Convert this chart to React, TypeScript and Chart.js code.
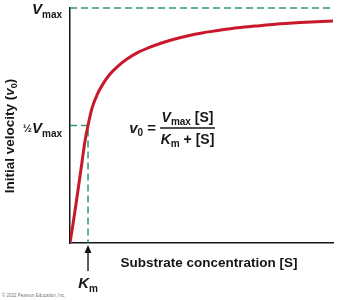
import { useEffect, useRef } from "react";
import { Chart, registerables } from "chart.js";

Chart.register(...registerables);

// Units: substrate concentration in multiples of Km, velocity as fraction of Vmax
const KM = 1;
const VMAX = 1;
const X_MAX = 14.6;

const substrate = [
  0, 0.167, 0.333, 0.5, 0.667, 0.833, 1.0, 1.222, 1.5, 1.833, 2.222, 2.667,
  3.167, 3.722, 4.333, 5.0, 5.722, 6.5, 7.333, 8.222, 9.167, 10.278, 11.389,
  12.778, 14.6,
];
const velocity = [
  0, 0.081, 0.166, 0.255, 0.345, 0.434, 0.5, 0.574, 0.63, 0.677, 0.719, 0.753,
  0.783, 0.809, 0.83, 0.849, 0.866, 0.881, 0.894, 0.904, 0.915, 0.923, 0.931,
  0.938, 0.945,
];
const vmaxLineX = [0, X_MAX];
const vmaxLineY = [VMAX, VMAX];
const halfLineX = [0, KM, KM];
const halfLineY = [VMAX / 2, VMAX / 2, 0];

const FF = '"Liberation Sans", Arial, Helvetica, sans-serif';
const RED = "#c8182a";
const GREEN = "#2f9970";
const INK = "#161616";

type Run = { t: string; font: string; dy?: number };

function drawRuns(
  ctx: CanvasRenderingContext2D,
  runs: Run[],
  x: number,
  baseY: number,
  align: "left" | "right" | "center"
) {
  let total = 0;
  const widths = runs.map((r) => {
    ctx.font = r.font;
    const w = ctx.measureText(r.t).width;
    total += w;
    return w;
  });
  let cx = align === "left" ? x : align === "right" ? x - total : x - total / 2;
  ctx.textAlign = "left";
  ctx.textBaseline = "alphabetic";
  runs.forEach((r, i) => {
    ctx.font = r.font;
    ctx.fillText(r.t, cx, baseY + (r.dy || 0));
    cx += widths[i];
  });
  return total;
}

const labelsPlugin = {
  id: "mmLabels",
  afterDraw(chart: any) {
    const { ctx, chartArea, scales } = chart;
    const xs = scales.x;
    const ys = scales.y;
    ctx.save();
    ctx.fillStyle = INK;
    ctx.strokeStyle = INK;

    const bi = (s: number) => `italic bold ${s}px ${FF}`;
    const b = (s: number) => `bold ${s}px ${FF}`;

    // Vmax label
    drawRuns(
      ctx,
      [
        { t: "V", font: bi(15) },
        { t: "max", font: b(10), dy: 4 },
      ],
      chartArea.left - 8,
      ys.getPixelForValue(VMAX) + 6,
      "right"
    );

    // 1/2 Vmax label
    drawRuns(
      ctx,
      [
        { t: "½", font: b(11), dy: -1 },
        { t: "V", font: bi(15) },
        { t: "max", font: b(10), dy: 4 },
      ],
      chartArea.left - 8,
      ys.getPixelForValue(VMAX / 2) + 7,
      "right"
    );

    // Km label + arrow
    const kx = xs.getPixelForValue(KM);
    drawRuns(
      ctx,
      [
        { t: "K", font: bi(15) },
        { t: "m", font: b(10), dy: 4 },
      ],
      kx,
      chartArea.bottom + 45,
      "center"
    );
    ctx.lineWidth = 1.4;
    ctx.beginPath();
    ctx.moveTo(kx, chartArea.bottom + 28);
    ctx.lineTo(kx, chartArea.bottom + 8);
    ctx.stroke();
    ctx.beginPath();
    ctx.moveTo(kx, chartArea.bottom + 2);
    ctx.lineTo(kx - 3.5, chartArea.bottom + 10);
    ctx.lineTo(kx + 3.5, chartArea.bottom + 10);
    ctx.closePath();
    ctx.fill();

    // x axis title
    ctx.font = b(13.5);
    ctx.textAlign = "center";
    ctx.textBaseline = "middle";
    ctx.fillText("Substrate concentration [S]", chartArea.left + 139, chartArea.bottom + 20);

    // y axis title (rotated)
    ctx.save();
    ctx.translate(14, 136);
    ctx.rotate(-Math.PI / 2);
    drawRuns(
      ctx,
      [
        { t: "Initial velocity (", font: b(13.5) },
        { t: "v", font: bi(13.5) },
        { t: "0", font: b(9), dy: 3 },
        { t: ")", font: b(13.5) },
      ],
      0,
      0,
      "center"
    );
    ctx.restore();

    // Equation
    const barL = 160;
    const barR = 215;
    const barY = 128;
    const midX = (barL + barR) / 2;
    drawRuns(
      ctx,
      [
        { t: "v", font: bi(15) },
        { t: "0", font: b(10), dy: 3 },
        { t: " =", font: b(15) },
      ],
      barL - 4,
      barY + 5,
      "right"
    );
    ctx.lineWidth = 1.5;
    ctx.beginPath();
    ctx.moveTo(barL, barY);
    ctx.lineTo(barR, barY);
    ctx.stroke();
    drawRuns(
      ctx,
      [
        { t: "V", font: bi(14) },
        { t: "max", font: b(10), dy: 3 },
        { t: " [S]", font: b(14) },
      ],
      midX,
      barY - 6,
      "center"
    );
    drawRuns(
      ctx,
      [
        { t: "K", font: bi(14) },
        { t: "m", font: b(10), dy: 3 },
        { t: " + [S]", font: b(14) },
      ],
      midX,
      barY + 16,
      "center"
    );

    // copyright
    ctx.fillStyle = "#777";
    ctx.font = `4.5px ${FF}`;
    ctx.textAlign = "left";
    ctx.textBaseline = "alphabetic";
    ctx.fillText("© 2022 Pearson Education, Inc.", 2, 297);

    ctx.restore();
  },
};

export default function App() {
  const canvasRef = useRef<HTMLCanvasElement | null>(null);

  useEffect(() => {
    const canvas = canvasRef.current;
    if (!canvas) return;
    const chart = new Chart(canvas, {
      type: "line",
      data: {
        datasets: [
          {
            label: "v0",
            data: substrate.map((s, i) => ({ x: s, y: velocity[i] })),
            borderColor: RED,
            borderWidth: 3,
            pointRadius: 0,
            cubicInterpolationMode: "monotone",
            fill: false,
          },
          {
            label: "Vmax",
            data: vmaxLineX.map((s, i) => ({ x: s, y: vmaxLineY[i] })),
            borderColor: GREEN,
            borderWidth: 1.5,
            borderDash: [7, 4],
            pointRadius: 0,
            clip: false,
            fill: false,
          },
          {
            label: "half",
            data: halfLineX.map((s, i) => ({ x: s, y: halfLineY[i] })),
            borderColor: GREEN,
            borderWidth: 1.5,
            borderDash: [7, 4],
            pointRadius: 0,
            clip: false,
            fill: false,
          },
        ],
      } as any,
      options: {
        animation: false,
        responsive: false,
        layout: { padding: { top: 8, right: 7, left: 0, bottom: 0 } },
        plugins: { legend: { display: false }, tooltip: { enabled: false } },
        scales: {
          x: {
            type: "linear",
            min: 0,
            max: X_MAX,
            grid: { display: false },
            ticks: { display: false },
            border: { display: true, color: INK, width: 1.5 },
            afterFit: (s: any) => {
              s.height = 57;
            },
          },
          y: {
            type: "linear",
            min: 0,
            max: VMAX,
            grid: { display: false },
            ticks: { display: false },
            border: { display: true, color: INK, width: 1.5 },
            afterFit: (s: any) => {
              s.width = 70;
            },
          },
        },
      } as any,
      plugins: [labelsPlugin],
    });
    return () => chart.destroy();
  }, []);

  return (
    <div style={{ position: "fixed", left: 0, top: 0, width: 340, height: 300, background: "#fff" }}>
      <canvas ref={canvasRef} width={340} height={300} />
    </div>
  );
}
